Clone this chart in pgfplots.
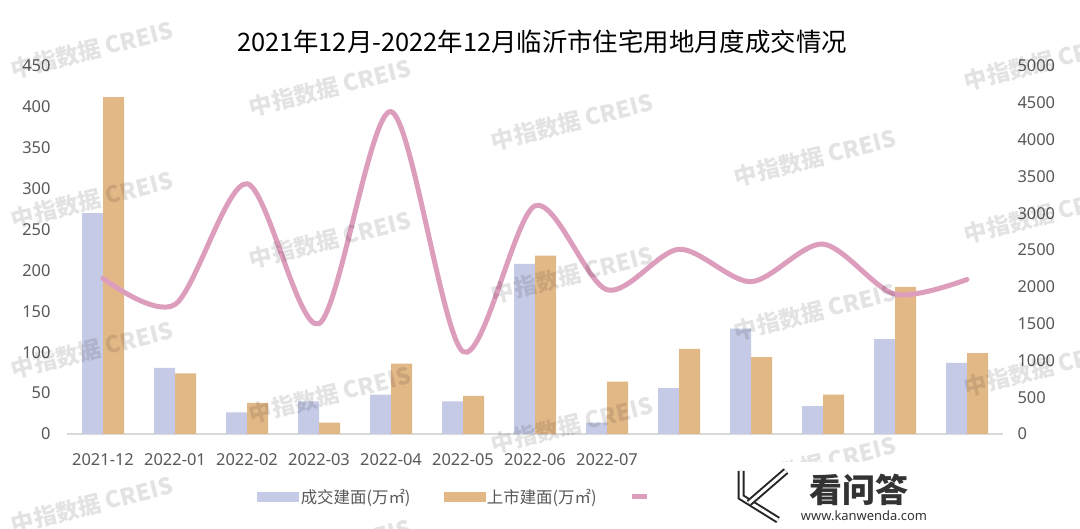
\documentclass[border=0pt]{standalone}
\usepackage{pgfplots}
\pgfplotsset{compat=1.18}
\usepackage{pgfplotstable}
\usepackage{fontspec}
\setmainfont{Noto Sans CJK SC}
\newfontfamily\latinfont{Noto Sans}
\definecolor{cblue}{RGB}{197,202,230}
\definecolor{corange}{RGB}{227,184,135}
\definecolor{cpink}{RGB}{221,158,190}
\definecolor{ctick}{RGB}{89,89,89}
\definecolor{caxis}{RGB}{217,217,217}

\pgfplotstableread{
x deal supply
0 270 412
1 81 74
2 26.5 38
3 40 14
4 48 86
5 40 46.5
6 208 218
7 14 64
8 56 104
9 129 94
10 34 48
11 116 180
12 87 99
}\bardata

\pgfplotstableread{
x price
0 2115
1 1760
2 3400
3 1500
4 4380
5 1120
6 3100
7 1960
8 2510
9 2070
10 2580
11 1900
12 2100
}\linedata

\begin{document}
\begin{tikzpicture}
\path[use as bounding box, fill=white] (0,0) rectangle (1080bp,529bp);
\begin{axis}[
  at={(67bp,95bp)}, anchor=south west,
  scale only axis, width=936bp, height=368bp,
  xmin=-0.5, xmax=12.5, ymin=0, ymax=450,
  xtick={0,...,12},
  xticklabels={2021-12,2022-01,2022-02,2022-03,2022-04,2022-05,2022-06,2022-07,,,,,},
  ytick={0,50,...,450},
  axis x line*=bottom, axis y line*=left,
  x axis line style={caxis, line width=1.5bp, -},
  y axis line style={draw=none},
  major tick length=0pt,
  tick label style={font=\latinfont\fontsize{16.5}{19}\selectfont, text=ctick},
  /pgf/number format/assume math mode=true,
  yticklabel shift=13bp,
  xticklabel shift=16bp,
  ybar, bar width=21bp,
]
\addplot[fill=cblue, draw=none, bar shift=-10.5bp] table[x=x,y=deal]{\bardata};
\addplot[fill=corange, draw=none, bar shift=10.5bp] table[x=x,y=supply]{\bardata};
\end{axis}
\begin{axis}[
  at={(67bp,95bp)}, anchor=south west,
  scale only axis, width=936bp, height=368bp,
  xmin=-0.5, xmax=12.5, ymin=0, ymax=5000,
  ytick={0,500,...,5000},
  axis y line*=right, axis x line=none,
  y axis line style={draw=none},
  major tick length=0pt,
  tick label style={font=\latinfont\fontsize{16.5}{19}\selectfont, text=ctick},
  /pgf/number format/assume math mode=true,
  /pgf/number format/set thousands separator={},
  yticklabel shift=11bp,
  legend columns=3,
  legend style={at={(0.2,-0.171)}, anchor=west, draw=none, fill=none,
    font=\fontsize{16.5}{19}\selectfont, text=ctick,
    /tikz/every even column/.append style={column sep=31bp}},
]
\addlegendimage{legend image code/.code={\fill[cblue] (0bp,-4.5bp) rectangle (41bp,4.5bp);}}
\addlegendentry{成交建面(万㎡)}
\addlegendimage{legend image code/.code={\fill[corange] (0bp,-4.5bp) rectangle (41bp,4.5bp);}}
\addlegendentry{上市建面(万㎡)}
\addplot[cpink, line width=5bp, smooth, line cap=round,
  legend image code/.code={\draw[cpink, line width=5bp, line cap=butt] (0bp,0bp)--(15bp,0bp);}]
  table[x=x,y=price]{\linedata};
\addlegendentry{}
\end{axis}
\node[font=\fontsize{25.5}{30}\selectfont, text=black] at (542bp,487bp) {2021年12月-2022年12月临沂市住宅用地月度成交情况};
\begin{scope}[shift={(0,529bp)}]
\foreach \x/\y in {92/50,92/200,92/350,92/505,330/88,330/240,330/395,330/548,572/122,572/275,572/425,815/158,815/312,815/465,1045/62,1045/215,1045/368}
  \node[rotate=14, text=black, opacity=0.11, font=\bfseries\fontsize{23}{23}\selectfont] at (\x bp, -\y bp) {中指数据\ CREIS};
\fill[white] (725bp,-462bp) rectangle (950bp,-529bp);
\draw[black!85, line width=7bp, line join=miter] (741bp,-471bp) -- (741bp,-497bp) -- (778bp,-520bp);
\draw[white, line width=3bp, line join=miter] (741bp,-471bp) -- (741bp,-497bp) -- (778bp,-520bp);
\draw[black!85, line width=7bp] (786bp,-471bp) -- (749bp,-503bp);
\draw[white, line width=3bp] (786bp,-471bp) -- (749bp,-503bp);
\node[font=\bfseries\fontsize{33}{33}\selectfont, text=black!80] at (859bp,-490bp) {看问答};
\node[font=\latinfont\bfseries\fontsize{13}{13}\selectfont, text=black!80] at (864bp,-516bp) {www.kanwenda.com};
\end{scope}
\end{tikzpicture}
\end{document}
